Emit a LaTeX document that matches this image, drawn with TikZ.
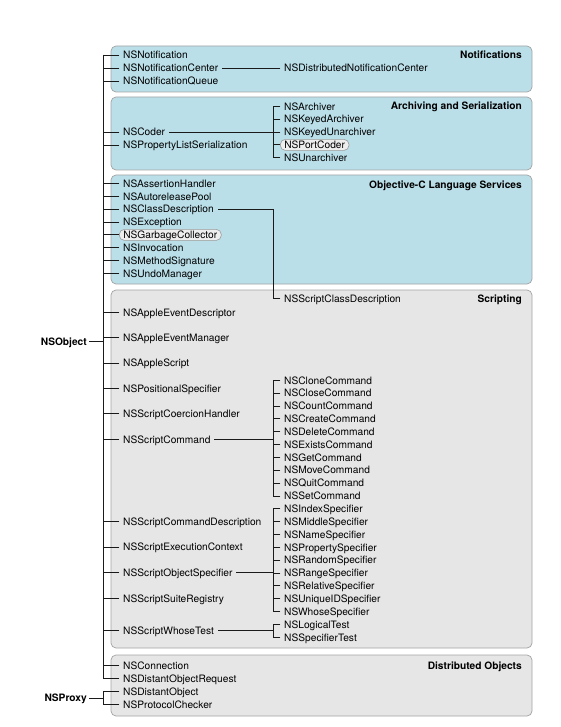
\documentclass[tikz,border=0pt]{standalone}
\usepackage{fontspec}
\setmainfont{TeX Gyre Heros}
\usetikzlibrary{calc}
\definecolor{GroupBlue}{HTML}{BADFE9}
\definecolor{GroupGrey}{HTML}{E6E6E6}
\definecolor{GroupEdge}{HTML}{A3A3A3}
\definecolor{PillFill}{HTML}{EEEEEE}
\definecolor{PillEdge}{HTML}{9A9A9A}
\definecolor{Wire}{HTML}{1A1A1A}
\begin{document}
\begin{tikzpicture}[x=1pt,y=-1pt,cls/.style={anchor=west, inner xsep=4pt, inner ysep=0pt, minimum height=11pt, text height=7.4pt, text depth=0pt, font=\fontsize{10.2}{12}\selectfont},pill/.style={cls, draw=PillEdge, fill=PillFill, rounded corners=5pt, line width=0.6pt},root/.style={anchor=east, inner xsep=2pt, inner ysep=0pt, text height=7.4pt, text depth=0pt, font=\fontsize{10.2}{12}\selectfont\bfseries},grp/.style={draw=GroupEdge, line width=0.7pt, rounded corners=5pt},grptitle/.style={anchor=east, inner sep=0pt, text height=7.4pt, text depth=0pt, font=\fontsize{10.2}{12}\selectfont\bfseries},wire/.style={draw=Wire, line width=0.9pt, line cap=rect}]
\useasboundingbox (0,0) rectangle (560,727);
% group boxes
\filldraw[grp, fill=GroupBlue] (111,46) rectangle (532,92);
\filldraw[grp, fill=GroupBlue] (111,97) rectangle (532,170);
\filldraw[grp, fill=GroupBlue] (111,175) rectangle (532,284);
\filldraw[grp, fill=GroupGrey] (111,290) rectangle (532,648);
\filldraw[grp, fill=GroupGrey] (111,655) rectangle (532,716);
\node[grptitle] (tnote) at (522,55) {Notifications};
\node[grptitle] (tarch) at (522,106) {Archiving and Serialization};
\node[grptitle] (tobjc) at (522,184.5) {Objective-C Language Services};
\node[grptitle] (tscript) at (522,298.5) {Scripting};
\node[grptitle] (tdist) at (522,665.5) {Distributed Objects};
% roots
\node[root] (nsobject) at (89,341.5) {NSObject};
\node[root] (nsproxy) at (89,698) {NSProxy};
% Notifications
\node[cls] (nsnote) at (119,55) {NSNotification};
\node[cls] (nsnotecenter) at (119,68) {NSNotificationCenter};
\node[cls] (nsnotequeue) at (119,81) {NSNotificationQueue};
\node[cls] (nsdistnotecenter) at (280,68) {NSDistributedNotificationCenter};
% Archiving and Serialization
\node[cls] (nscoder) at (119,132.1) {NSCoder};
\node[cls] (nsplist) at (119,145) {NSPropertyListSerialization};
\node[cls] (nsarchiver) at (280,106.5) {NSArchiver};
\node[cls] (nskeyedarch) at (280,119.3) {NSKeyedArchiver};
\node[cls] (nskeyedunarch) at (280,132.1) {NSKeyedUnarchiver};
\node[pill] (nsportcoder) at (280,144.9) {NSPortCoder};
\node[cls] (nsunarchiver) at (280,157.7) {NSUnarchiver};
% Objective-C Language Services
\node[cls] (nsassert) at (119,183.7) {NSAssertionHandler};
\node[cls] (nspool) at (119,196.5) {NSAutoreleasePool};
\node[cls] (nsclassdesc) at (119,209.3) {NSClassDescription};
\node[cls] (nsexcept) at (119,222.1) {NSException};
\node[pill] (nsgc) at (119,234.9) {NSGarbageCollector};
\node[cls] (nsinvoc) at (119,247.7) {NSInvocation};
\node[cls] (nsmethsig) at (119,260.5) {NSMethodSignature};
\node[cls] (nsundo) at (119,273.3) {NSUndoManager};
% Scripting
\node[cls] (nsscriptclassdesc) at (280,298.5) {NSScriptClassDescription};
\node[cls] (nsaedesc) at (119,312.3) {NSAppleEventDescriptor};
\node[cls] (nsaemgr) at (119,337.7) {NSAppleEventManager};
\node[cls] (nsascript) at (119,363.1) {NSAppleScript};
\node[cls] (nsposspec) at (119,388.5) {NSPositionalSpecifier};
\node[cls] (nscoerce) at (119,413.9) {NSScriptCoercionHandler};
\node[cls] (nsscriptcmd) at (119,439.3) {NSScriptCommand};
\node[cls] (nscmddesc) at (119,521.7) {NSScriptCommandDescription};
\node[cls] (nsexecctx) at (119,547.2) {NSScriptExecutionContext};
\node[cls] (nsobjspec) at (119,572.7) {NSScriptObjectSpecifier};
\node[cls] (nssuitereg) at (119,598.3) {NSScriptSuiteRegistry};
\node[cls] (nswhosetest) at (119,630.8) {NSScriptWhoseTest};
\node[cls] (nsclone) at (280,380.3) {NSCloneCommand};
\node[cls] (nsclose) at (280,393.15) {NSCloseCommand};
\node[cls] (nscount) at (280,406) {NSCountCommand};
\node[cls] (nscreate) at (280,418.85) {NSCreateCommand};
\node[cls] (nsdelete) at (280,431.7) {NSDeleteCommand};
\node[cls] (nsexists) at (280,444.55) {NSExistsCommand};
\node[cls] (nsget) at (280,457.4) {NSGetCommand};
\node[cls] (nsmove) at (280,470.25) {NSMoveCommand};
\node[cls] (nsquit) at (280,483.1) {NSQuitCommand};
\node[cls] (nsset) at (280,495.95) {NSSetCommand};
\node[cls] (nsindexspec) at (280,508.8) {NSIndexSpecifier};
\node[cls] (nsmidspec) at (280,521.65) {NSMiddleSpecifier};
\node[cls] (nsnamespec) at (280,534.5) {NSNameSpecifier};
\node[cls] (nspropspec) at (280,547.35) {NSPropertySpecifier};
\node[cls] (nsrandspec) at (280,560.2) {NSRandomSpecifier};
\node[cls] (nsrangespec) at (280,573.05) {NSRangeSpecifier};
\node[cls] (nsrelspec) at (280,585.9) {NSRelativeSpecifier};
\node[cls] (nsuidspec) at (280,598.75) {NSUniqueIDSpecifier};
\node[cls] (nswhosespec) at (280,611.6) {NSWhoseSpecifier};
\node[cls] (nslogtest) at (280,624.45) {NSLogicalTest};
\node[cls] (nsspectest) at (280,637.3) {NSSpecifierTest};
% Distributed Objects
\node[cls] (nsconn) at (119,665.5) {NSConnection};
\node[cls] (nsdistreq) at (119,678.5) {NSDistantObjectRequest};
\node[cls] (nsdistobj) at (119,691.5) {NSDistantObject};
\node[cls] (nsprotocheck) at (119,704.5) {NSProtocolChecker};
% connectors
\coordinate (mainbar) at (103,0);
\coordinate (subbar) at (273,0);
\draw[wire] (nsobject.east) -- (nsobject.east -| mainbar);
\draw[wire] (nsnote.west -| mainbar) -- (nsdistreq.west -| mainbar);
\foreach \c in {nsnote,nsnotecenter,nsnotequeue,nscoder,nsplist,nsassert,nspool,nsclassdesc,nsexcept,nsgc,nsinvoc,nsmethsig,nsundo,nsaedesc,nsaemgr,nsascript,nsposspec,nscoerce,nsscriptcmd,nscmddesc,nsexecctx,nsobjspec,nssuitereg,nswhosetest,nsconn,nsdistreq}
  \draw[wire] (\c.west -| mainbar) -- (\c.west);
\draw[wire] (nsproxy.east) -- (nsproxy.east -| mainbar);
\draw[wire] (nsdistobj.west -| mainbar) -- (nsprotocheck.west -| mainbar);
\foreach \c in {nsdistobj,nsprotocheck}
  \draw[wire] (\c.west -| mainbar) -- (\c.west);
\draw[wire] (nsnotecenter.east) -- (nsdistnotecenter.west);
\draw[wire] (nscoder.east) -- (nscoder.east -| subbar);
\draw[wire] (nsarchiver.west -| subbar) -- (nsunarchiver.west -| subbar);
\foreach \c in {nsarchiver,nskeyedarch,nskeyedunarch,nsportcoder,nsunarchiver}
  \draw[wire] (\c.west -| subbar) -- (\c.west);
\draw[wire] (nsclassdesc.east) -- (nsclassdesc.east -| subbar) |- (nsscriptclassdesc.west);
\draw[wire] (nsscriptcmd.east) -- (nsscriptcmd.east -| subbar);
\draw[wire] (nsclone.west -| subbar) -- (nsset.west -| subbar);
\foreach \c in {nsclone,nsclose,nscount,nscreate,nsdelete,nsexists,nsget,nsmove,nsquit,nsset}
  \draw[wire] (\c.west -| subbar) -- (\c.west);
\draw[wire] (nsobjspec.east) -- (nsobjspec.east -| subbar);
\draw[wire] (nsindexspec.west -| subbar) -- (nswhosespec.west -| subbar);
\foreach \c in {nsindexspec,nsmidspec,nsnamespec,nspropspec,nsrandspec,nsrangespec,nsrelspec,nsuidspec,nswhosespec}
  \draw[wire] (\c.west -| subbar) -- (\c.west);
\draw[wire] (nswhosetest.east) -- (nswhosetest.east -| subbar);
\draw[wire] (nslogtest.west -| subbar) -- (nsspectest.west -| subbar);
\foreach \c in {nslogtest,nsspectest}
  \draw[wire] (\c.west -| subbar) -- (\c.west);
\end{tikzpicture}
\end{document}
